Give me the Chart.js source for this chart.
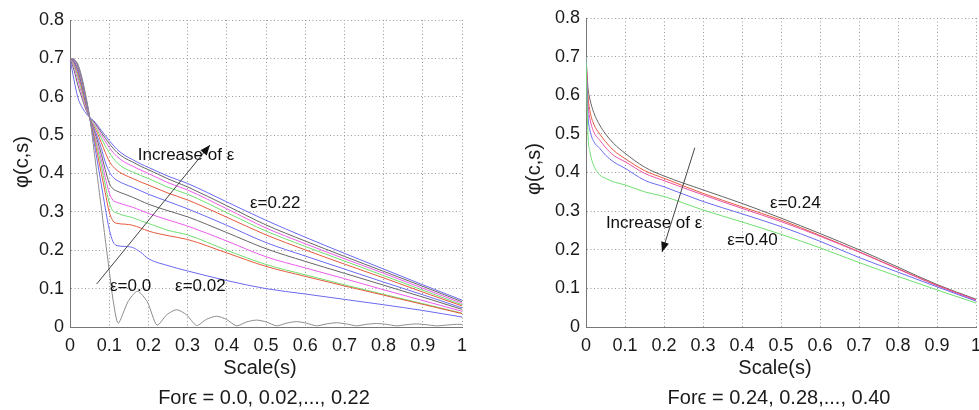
<!DOCTYPE html>
<html>
<head>
<meta charset="utf-8">
<script src="https://cdn.jsdelivr.net/npm/chart.js@4"></script>
<style>
  html, body { margin: 0; padding: 0; background: #fff; overflow: hidden; }
  .wrap { position: absolute; top: 0; height: 410px; }
</style>
</head>
<body>
<div class="wrap" style="left:0;width:490px"><canvas id="left"></canvas></div>
<div class="wrap" style="left:490px;width:500px"><canvas id="right"></canvas></div>
<script>
// scale values (x axis) for the left panel curves
var sLeft = [0, 0.01, 0.02, 0.03, 0.04, 0.05, 0.06, 0.07, 0.08, 0.09, 0.1, 0.11, 0.12, 0.14, 0.16, 0.18, 0.2, 0.25, 0.3, 0.4, 0.5, 0.6, 0.7, 0.8, 0.9, 1.0];

var phiE002 = [0.7, 0.697, 0.682, 0.648, 0.6, 0.546, 0.49, 0.43, 0.37, 0.31, 0.255, 0.222, 0.212, 0.21, 0.207, 0.195, 0.178, 0.16, 0.146, 0.121, 0.100, 0.086, 0.072, 0.058, 0.043, 0.026];
var phiE004 = [0.7, 0.697, 0.681, 0.646, 0.598, 0.546, 0.5, 0.45, 0.4, 0.35, 0.3, 0.276, 0.27, 0.268, 0.265, 0.258, 0.25, 0.238, 0.228, 0.193, 0.158, 0.132, 0.107, 0.083, 0.059, 0.035];
var phiE006 = [0.7, 0.696, 0.679, 0.643, 0.596, 0.546, 0.505, 0.465, 0.42, 0.37, 0.325, 0.302, 0.297, 0.29, 0.285, 0.277, 0.27, 0.252, 0.24, 0.2, 0.163, 0.136, 0.110, 0.085, 0.061, 0.036];
var phiE008 = [0.7, 0.695, 0.676, 0.64, 0.594, 0.546, 0.51, 0.475, 0.435, 0.39, 0.35, 0.33, 0.325, 0.318, 0.312, 0.304, 0.296, 0.279, 0.263, 0.224, 0.183, 0.154, 0.126, 0.097, 0.069, 0.041];
var phiE010 = [0.7, 0.693, 0.672, 0.635, 0.59, 0.546, 0.515, 0.485, 0.45, 0.41, 0.375, 0.36, 0.354, 0.346, 0.338, 0.329, 0.32, 0.303, 0.287, 0.246, 0.204, 0.171, 0.140, 0.109, 0.078, 0.046];
var phiE012 = [0.7, 0.69, 0.666, 0.63, 0.587, 0.546, 0.52, 0.495, 0.465, 0.43, 0.405, 0.39, 0.382, 0.372, 0.364, 0.355, 0.346, 0.327, 0.308, 0.265, 0.220, 0.185, 0.151, 0.117, 0.084, 0.050];
var phiE014 = [0.7, 0.687, 0.66, 0.623, 0.583, 0.546, 0.525, 0.505, 0.48, 0.455, 0.432, 0.418, 0.408, 0.396, 0.387, 0.378, 0.37, 0.349, 0.331, 0.286, 0.240, 0.201, 0.164, 0.128, 0.091, 0.055];
var phiE016 = [0.7, 0.683, 0.652, 0.616, 0.578, 0.546, 0.53, 0.512, 0.492, 0.472, 0.455, 0.44, 0.428, 0.413, 0.404, 0.395, 0.387, 0.364, 0.346, 0.298, 0.250, 0.210, 0.172, 0.134, 0.096, 0.058];
var phiE018 = [0.7, 0.678, 0.643, 0.607, 0.573, 0.546, 0.533, 0.518, 0.5, 0.484, 0.468, 0.455, 0.444, 0.429, 0.419, 0.409, 0.4, 0.376, 0.357, 0.308, 0.258, 0.217, 0.178, 0.140, 0.101, 0.062];
var phiE020 = [0.7, 0.67, 0.63, 0.598, 0.568, 0.546, 0.536, 0.522, 0.507, 0.492, 0.478, 0.466, 0.455, 0.44, 0.43, 0.419, 0.41, 0.386, 0.365, 0.316, 0.266, 0.224, 0.184, 0.145, 0.106, 0.066];
var phiE022 = [0.7, 0.645, 0.598, 0.574, 0.558, 0.546, 0.538, 0.526, 0.512, 0.499, 0.486, 0.474, 0.463, 0.447, 0.436, 0.425, 0.416, 0.393, 0.374, 0.326, 0.278, 0.234, 0.192, 0.151, 0.110, 0.070];

// eps = 0.0 has its own sampling (ripples)
var sZero = [0, 0.01, 0.02, 0.03, 0.04, 0.05, 0.06, 0.07, 0.08, 0.09, 0.1, 0.11, 0.123,
  0.148, 0.172, 0.197, 0.222, 0.247, 0.272, 0.297, 0.323, 0.348, 0.374, 0.399, 0.425,
  0.45, 0.476, 0.501, 0.527, 0.552, 0.578, 0.603, 0.629, 0.654, 0.68, 0.705, 0.731,
  0.756, 0.782, 0.807, 0.833, 0.858, 0.884, 0.909, 0.935, 0.96, 0.986, 1.0];
var phiE000 = [0.7, 0.698, 0.685, 0.652, 0.605, 0.55, 0.47, 0.39, 0.31, 0.228, 0.148, 0.07, 0.01,
  0.066, 0.093, 0.066, 0.005, 0.032, 0.045, 0.032, 0.004, 0.02, 0.028, 0.02, 0.003,
  0.013, 0.018, 0.013, 0.003, 0.01, 0.014, 0.01, 0.003, 0.008, 0.011, 0.008, 0.003,
  0.007, 0.009, 0.007, 0.003, 0.006, 0.008, 0.006, 0.003, 0.005, 0.007, 0.0065];

// right panel
var sRight = [0, 0.005, 0.01, 0.02, 0.035, 0.05, 0.07, 0.1, 0.15, 0.2, 0.3, 0.4, 0.5, 0.6, 0.7, 0.8, 0.9, 1.0];
var phiE024 = [0.7, 0.62, 0.59, 0.555, 0.523, 0.5, 0.476, 0.45, 0.414, 0.391, 0.355, 0.32, 0.282, 0.242, 0.2, 0.155, 0.11, 0.072];
var phiE028 = [0.7, 0.6, 0.56, 0.525, 0.5, 0.48, 0.458, 0.436, 0.405, 0.385, 0.346, 0.311, 0.277, 0.237, 0.195, 0.151, 0.108, 0.07];
var phiE032 = [0.7, 0.58, 0.54, 0.505, 0.484, 0.465, 0.445, 0.428, 0.398, 0.379, 0.342, 0.307, 0.273, 0.235, 0.194, 0.15, 0.107, 0.07];
var phiE036 = [0.7, 0.55, 0.51, 0.48, 0.463, 0.445, 0.428, 0.411, 0.38, 0.363, 0.325, 0.293, 0.26, 0.222, 0.18, 0.142, 0.104, 0.067];
var phiE040 = [0.7, 0.5, 0.455, 0.418, 0.394, 0.385, 0.376, 0.368, 0.35, 0.338, 0.303, 0.272, 0.24, 0.205, 0.167, 0.131, 0.096, 0.062];

var xTicks = ['0', '0.1', '0.2', '0.3', '0.4', '0.5', '0.6', '0.7', '0.8', '0.9', '1'];
var yTicks = ['0', '0.1', '0.2', '0.3', '0.4', '0.5', '0.6', '0.7', '0.8'];

// basic colors
var colors = {
    blue: '#6a6af2',
    red: '#e65a3e',
    green: '#70df70',
    magenta: '#ec5dec',
    gray: '#666666',
    ripple: '#8c8c8c',
    pink: '#ea4fa6'
};

var FONT = '"Liberation Sans", Arial, Helvetica, sans-serif';

function pts(xs, ys) {
    return xs.map(function (s, i) { return {x: s, y: ys[i]}; });
}

function line(xs, ys, color, smooth) {
    var ds = {
        data: pts(xs, ys),
        borderColor: color,
        borderWidth: 1,
        pointRadius: 0,
        fill: false
    };
    if (smooth) {
        ds.cubicInterpolationMode = 'monotone';
    } else {
        ds.tension = 0.25;
    }
    return ds;
}

// text and arrows drawn in data coordinates, axis captions around the plot
var notesPlugin = {
    id: 'notes',
    afterDatasetsDraw: function (chart, args, opts) {
        var ctx = chart.ctx;
        var x = chart.scales.x, y = chart.scales.y;
        ctx.save();
        (opts.arrows || []).forEach(function (a) {
            var x1 = x.getPixelForValue(a.from[0]), y1 = y.getPixelForValue(a.from[1]);
            var x2 = x.getPixelForValue(a.to[0]), y2 = y.getPixelForValue(a.to[1]);
            ctx.strokeStyle = '#444';
            ctx.lineWidth = 1;
            ctx.beginPath();
            ctx.moveTo(x1, y1);
            ctx.lineTo(x2, y2);
            ctx.stroke();
            var ang = Math.atan2(y2 - y1, x2 - x1);
            ctx.fillStyle = '#111';
            ctx.beginPath();
            ctx.moveTo(x2, y2);
            ctx.lineTo(x2 - 10 * Math.cos(ang) + 4 * Math.sin(ang), y2 - 10 * Math.sin(ang) - 4 * Math.cos(ang));
            ctx.lineTo(x2 - 10 * Math.cos(ang) - 4 * Math.sin(ang), y2 - 10 * Math.sin(ang) + 4 * Math.cos(ang));
            ctx.closePath();
            ctx.fill();
        });
        ctx.fillStyle = '#111';
        ctx.font = '17px ' + FONT;
        ctx.textBaseline = 'middle';
        ctx.textAlign = 'left';
        (opts.labels || []).forEach(function (l) {
            ctx.fillText(l.text, x.getPixelForValue(l.at[0]), y.getPixelForValue(l.at[1]));
        });

        // captions
        var area = chart.chartArea;
        ctx.fillStyle = '#1a1a1a';
        ctx.font = '20px ' + FONT;
        ctx.textAlign = 'center';
        ctx.fillText('Scale(s)', (area.left + area.right) / 2 - 6, 368);
        ctx.fillText('For\u03f5 = ' + opts.bottom, (area.left + area.right) / 2 - 2, 398);
        ctx.translate(opts.yTitleX, opts.yTitleY);
        ctx.rotate(-Math.PI / 2);
        ctx.fillText('\u03c6(c,s)', 0, 0);
        ctx.restore();
    }
};

function makeOptions(pad, notes) {
    return {
        responsive: true,
        maintainAspectRatio: false,
        animation: false,
        layout: {padding: pad},
        plugins: {
            legend: {display: false},
            tooltip: {enabled: false},
            notes: notes
        },
        scales: {
            x: {
                type: 'linear',
                min: 0,
                max: 1,
                afterFit: function (scale) { scale.height = 83; },
                ticks: {
                    stepSize: 0.1,
                    padding: 8,
                    maxRotation: 0,
                    autoSkip: false,
                    color: '#1a1a1a',
                    font: {family: FONT, size: 18},
                    callback: function (v) { return xTicks[Math.round(v * 10)]; }
                },
                grid: {color: '#9a9a9a', drawTicks: false},
                border: {color: '#777', dash: [1, 2.5]}
            },
            y: {
                min: 0,
                max: 0.8,
                afterFit: function (scale) { scale.width = 70; },
                ticks: {
                    stepSize: 0.1,
                    padding: 6,
                    color: '#1a1a1a',
                    font: {family: FONT, size: 18},
                    callback: function (v) { return yTicks[Math.round(v * 10)]; }
                },
                grid: {color: '#9a9a9a', drawTicks: false},
                border: {color: '#777', dash: [1, 2.5]}
            }
        }
    };
}

var leftChart = new Chart(document.getElementById('left').getContext('2d'), {
    type: 'line',
    data: {
        datasets: [
            line(sZero, phiE000, colors.ripple, false),
            line(sLeft, phiE002, colors.blue, true),
            line(sLeft, phiE004, colors.red, true),
            line(sLeft, phiE006, colors.green, true),
            line(sLeft, phiE008, colors.magenta, true),
            line(sLeft, phiE010, colors.gray, true),
            line(sLeft, phiE012, colors.blue, true),
            line(sLeft, phiE014, colors.red, true),
            line(sLeft, phiE016, colors.green, true),
            line(sLeft, phiE018, colors.magenta, true),
            line(sLeft, phiE020, colors.gray, true),
            line(sLeft, phiE022, colors.blue, true)
        ]
    },
    options: makeOptions({left: 0, right: 28, top: 20, bottom: 0}, {
        bottom: '0.0, 0.02,..., 0.22',
        yTitleX: 22,
        yTitleY: 162,
        arrows: [{from: [0.068, 0.112], to: [0.357, 0.474]}],
        labels: [
            {text: 'Increase of \u03b5', at: [0.173, 0.448]},
            {text: '\u03b5=0.0', at: [0.102, 0.107]},
            {text: '\u03b5=0.02', at: [0.268, 0.107]},
            {text: '\u03b5=0.22', at: [0.459, 0.323]}
        ]
    }),
    plugins: [notesPlugin]
});

var rightChart = new Chart(document.getElementById('right').getContext('2d'), {
    type: 'line',
    data: {
        datasets: [
            line(sRight, phiE040, colors.green, true),
            line(sRight, phiE036, colors.blue, true),
            line(sRight, phiE032, colors.pink, true),
            line(sRight, phiE028, colors.red, true),
            line(sRight, phiE024, colors.gray, true)
        ]
    },
    options: makeOptions({left: 26, right: 14, top: 18, bottom: 0}, {
        bottom: '0.24, 0.28,..., 0.40',
        yTitleX: 44,
        yTitleY: 169,
        arrows: [{from: [0.279, 0.464], to: [0.195, 0.194]}],
        labels: [
            {text: 'Increase of \u03b5', at: [0.051, 0.269]},
            {text: '\u03b5=0.24', at: [0.472, 0.321]},
            {text: '\u03b5=0.40', at: [0.362, 0.225]}
        ]
    }),
    plugins: [notesPlugin]
});
</script>
</body>
</html>
